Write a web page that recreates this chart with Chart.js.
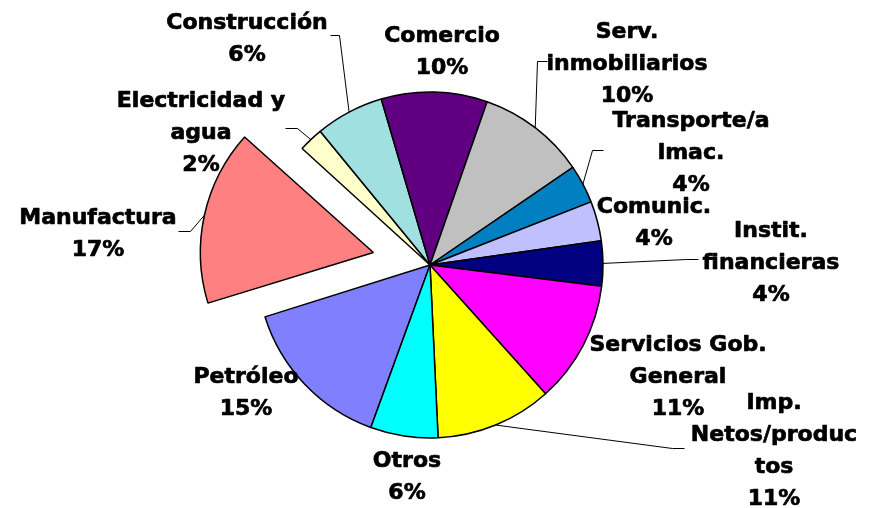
<!DOCTYPE html>
<html>
<head>
<meta charset="utf-8">
<script src="https://cdn.jsdelivr.net/npm/chart.js@4.4.1/dist/chart.umd.min.js"></script>
<style>
    html, body { margin: 0; padding: 0; background: #fff; }
    #wrap { width: 870px; height: 508px; }
</style>
</head>
<body>
<div id="wrap"><canvas id="pieChart" width="870" height="508"></canvas></div>
<script>
// Sectors, clockwise from the start angle (line breaks as in the labels)
const sectors = ['Petróleo', 'Manufactura', 'Electricidad y\nagua', 'Construcción', 'Comercio',
    'Serv.\ninmobiliarios', 'Transporte/a\nlmac.', 'Comunic.', 'Instit.\nfinancieras',
    'Servicios Gob.\nGeneral', 'Imp.\nNetos/produc\ntos', 'Otros'];

// Share of each sector (%)
const shares = [14.6, 16.6, 2.3, 6.4, 9.9, 10.1, 3.6, 3.7, 4.2, 11.4, 10.9, 6.3];

const sliceColors = ['#8080ff', '#ff8080', '#ffffcc', '#a0e0e0', '#600080', '#c0c0c0',
    '#0080c0', '#c0c0ff', '#000080', '#ff00ff', '#ffff00', '#00ffff'];

// Pie geometry
const PIE_RADIUS = 173;
const START_ANGLE = 200;
const EXPLODED = 'Manufactura';
const EXPLODE_PX = 58;          // how far the slice is pulled out
const LINE_H = 32;

// Label placement relative to the pie centre: first baseline + optional leader line
const labelLayout = [
    { dx: -184, dy: 118 },
    { dx: -332, dy: -41, leader: [[-240, -34], [-252, -34]] },
    { dx: -229, dy: -158, leader: [[-133, -137], [-145, -137]] },
    { dx: -183, dy: -236, leader: [[-91, -230], [-100, -230]] },
    { dx: 12, dy: -223 },
    { dx: 197, dy: -227, leader: [[107, -204], [117, -204]] },
    { dx: 261, dy: -138, leader: [[162, -115], [173, -115]] },
    { dx: 224, dy: -52 },
    { dx: 341, dy: -28, leader: [[256, -6], [268, -6]] },
    { dx: 248, dy: 86 },
    { dx: 344, dy: 144, leader: [[242, 183], [254, 183]] },
    { dx: -23, dy: 202 }
];

function explodeOffset(i) {
    // Chart.js moves an arc by offset / 4
    return sectors[i] === EXPLODED ? EXPLODE_PX * 4 : 0;
}

// Keep the pulled-out slice at the same radius as the others
const keepRadius = {
    id: 'keepRadius',
    beforeDatasetsDraw(chart) {
        chart.getDatasetMeta(0).data.forEach((arc, i) => {
            const off = explodeOffset(i) / 4;
            if (!off) return;
            const fix = 1 - Math.sin(Math.min(Math.PI, arc.circumference));
            arc.outerRadius = PIE_RADIUS - off * fix;
        });
    }
};

const sliceLabels = {
    id: 'sliceLabels',
    afterDatasetsDraw(chart) {
        const ctx = chart.ctx;
        const total = shares.reduce((a, b) => a + b, 0);
        ctx.save();
        ctx.strokeStyle = '#000';
        ctx.lineWidth = 1;
        chart.getDatasetMeta(0).data.forEach((arc, i) => {
            const pos = labelLayout[i];
            if (!pos.leader) return;
            const mid = (arc.startAngle + arc.endAngle) / 2;
            const r = PIE_RADIUS + explodeOffset(i) / 4;
            ctx.beginPath();
            ctx.moveTo(arc.x + Math.cos(mid) * r, arc.y + Math.sin(mid) * r);
            pos.leader.forEach(p => ctx.lineTo(Math.round(arc.x + p[0]) + 0.5, Math.round(arc.y + p[1]) + 0.5));
            ctx.stroke();
        });

        ctx.font = 'bold 22px "DejaVu Sans"';
        ctx.fillStyle = '#000';
        ctx.lineWidth = 0.7;
        ctx.lineJoin = 'round';
        ctx.textAlign = 'center';
        ctx.textBaseline = 'alphabetic';
        chart.getDatasetMeta(0).data.forEach((arc, i) => {
            const pos = labelLayout[i];
            const lines = sectors[i].split('\n').concat(Math.round(shares[i] / total * 100) + '%');
            lines.forEach((t, k) => {
                const x = arc.x + pos.dx, y = arc.y + pos.dy + k * LINE_H;
                ctx.fillText(t, x, y);
                ctx.strokeText(t, x, y);
            });
        });
        ctx.restore();
    }
};

new Chart(document.getElementById('pieChart'), {
    type: 'pie',
    data: {
        labels: sectors,
        datasets: [{
            data: shares,
            backgroundColor: sliceColors,
            borderColor: '#000',
            borderWidth: 1.5,
            radius: PIE_RADIUS,
            offset: ctx => explodeOffset(ctx.dataIndex),
            hoverOffset: 0
        }]
    },
    options: {
        responsive: false,
        devicePixelRatio: 1,
        animation: false,
        rotation: START_ANGLE,
        layout: { padding: { left: 220, right: 230, top: 40, bottom: 18 } },
        plugins: {
            legend: { display: false },
            tooltip: { enabled: false }
        },
        events: []
    },
    plugins: [keepRadius, sliceLabels]
});
</script>
</body>
</html>
